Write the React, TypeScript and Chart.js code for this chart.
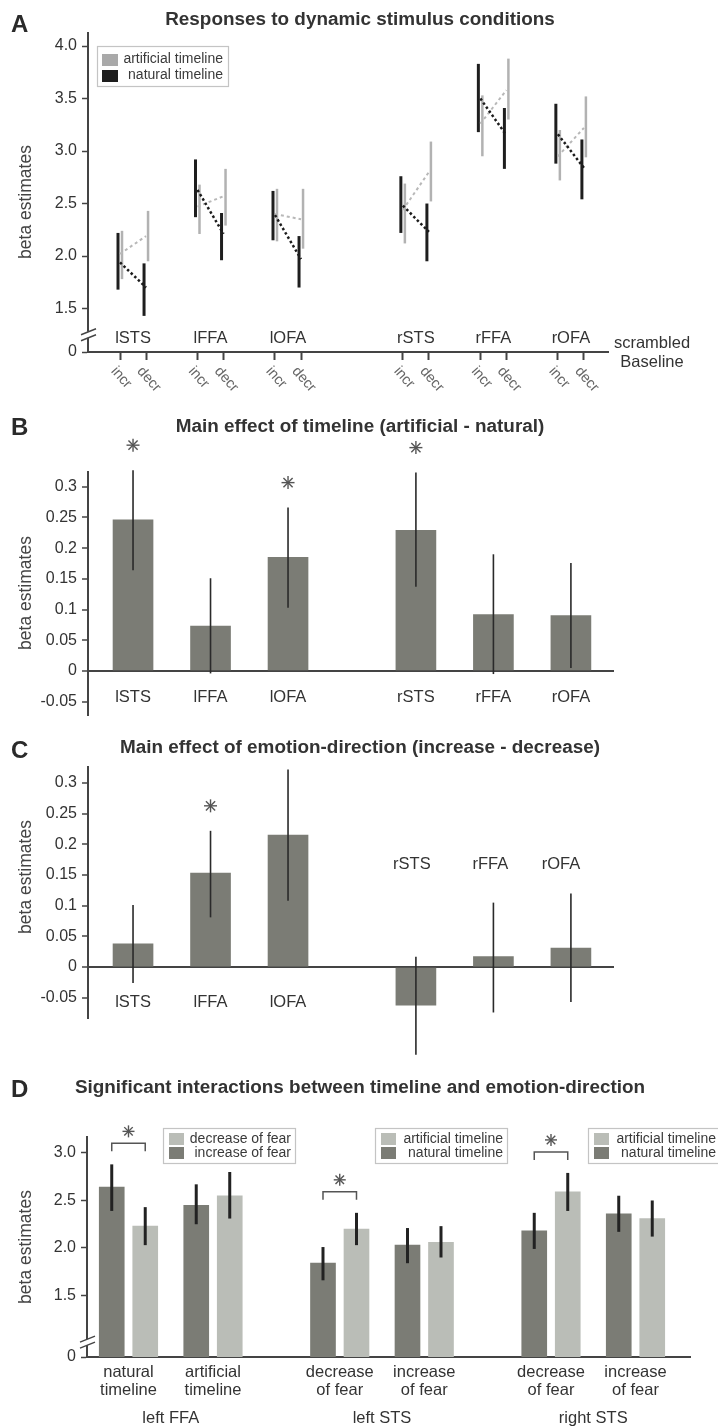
import React, { useEffect, useRef } from 'react';
import { Chart, registerables } from 'chart.js';

Chart.register(...registerables);

const FONT = '"Liberation Sans", Arial, Helvetica, sans-serif';
const INK = '#333333';
const AXIS = '#444444';
const BAR_DARK = '#7b7c75';
const BAR_LIGHT = '#babdb7';

// ---------------- Panel A data ----------------
const titleA = 'Responses to dynamic stimulus conditions';
const regionsA = ['lSTS', 'lFFA', 'lOFA', 'rSTS', 'rFFA', 'rOFA'];
const conditionsA = ['incr', 'decr'];
const yTicksA = [1.5, 2.0, 2.5, 3.0, 3.5, 4.0];
const legendA = ['artificial timeline', 'natural timeline'];
const natIncrMean = [1.94, 2.63, 2.39, 2.48, 3.5, 3.16];
const natIncrLow = [1.68, 2.37, 2.15, 2.22, 3.18, 2.88];
const natIncrHigh = [2.22, 2.92, 2.62, 2.76, 3.83, 3.45];
const natDecrMean = [1.7, 2.21, 1.97, 2.23, 3.15, 2.84];
const natDecrLow = [1.43, 1.96, 1.7, 1.95, 2.83, 2.54];
const natDecrHigh = [1.93, 2.41, 2.19, 2.5, 3.41, 3.11];
const artIncrMean = [2.02, 2.47, 2.4, 2.44, 3.26, 2.95];
const artIncrLow = [1.78, 2.21, 2.14, 2.12, 2.95, 2.72];
const artIncrHigh = [2.24, 2.68, 2.64, 2.69, 3.53, 3.2];
const artDecrMean = [2.19, 2.57, 2.35, 2.8, 3.58, 3.22];
const artDecrLow = [1.95, 2.29, 2.07, 2.52, 3.3, 2.94];
const artDecrHigh = [2.43, 2.83, 2.64, 3.09, 3.88, 3.52];

// ---------------- Panel B data ----------------
const titleB = 'Main effect of timeline (artificial - natural)';
const yTicksB = [-0.05, 0, 0.05, 0.1, 0.15, 0.2, 0.25, 0.3];
const timelineEffect = [0.246, 0.073, 0.185, 0.229, 0.092, 0.09];
const timelineLow = [0.164, -0.004, 0.103, 0.137, -0.005, 0.005];
const timelineHigh = [0.327, 0.151, 0.266, 0.323, 0.19, 0.176];
const timelineSig = [true, false, true, true, false, false];

// ---------------- Panel C data ----------------
const titleC = 'Main effect of emotion-direction (increase - decrease)';
const yTicksC = [-0.05, 0, 0.05, 0.1, 0.15, 0.2, 0.25, 0.3];
const emotionEffect = [0.038, 0.153, 0.215, -0.062, 0.017, 0.031];
const emotionLow = [-0.026, 0.081, 0.108, -0.143, -0.074, -0.057];
const emotionHigh = [0.101, 0.222, 0.322, 0.017, 0.105, 0.12];
const emotionSig = [false, true, false, false, false, false];

// ---------------- Panel D data ----------------
const titleD = 'Significant interactions between timeline and emotion-direction';
const yTicksD = [1.5, 2.0, 2.5, 3.0];
const dCategories = [
  ['natural', 'timeline'],
  ['artificial', 'timeline'],
  ['decrease', 'of fear'],
  ['increase', 'of fear'],
  ['decrease', 'of fear'],
  ['increase', 'of fear'],
];
const dRegions = ['left FFA', 'left STS', 'right STS'];
const dDark = [2.64, 2.45, 1.84, 2.03, 2.18, 2.36];
const dDarkLow = [2.39, 2.25, 1.66, 1.84, 1.99, 2.17];
const dDarkHigh = [2.88, 2.67, 2.01, 2.21, 2.37, 2.55];
const dLight = [2.23, 2.55, 2.2, 2.06, 2.59, 2.31];
const dLightLow = [2.03, 2.31, 2.03, 1.9, 2.39, 2.12];
const dLightHigh = [2.43, 2.8, 2.37, 2.23, 2.79, 2.5];
const dSig = [true, false, true, false, true, false];
const dLegends = [
  ['decrease of fear', 'increase of fear'],
  ['artificial timeline', 'natural timeline'],
  ['artificial timeline', 'natural timeline'],
];

// ---------------- layout constants ----------------
const posA = [0, 1, 2, 3.65, 4.65, 5.65];
const condShift = 0.168;
const posD = [0, 1, 2.5, 3.5, 5, 6];
const labelShiftC = [0, 0, 0, -4, -3, -10];

// ---------------- drawing helpers ----------------
function drawText(ctx: any, s: string, x: number, y: number, o: any = {}) {
  ctx.save();
  ctx.font = `${o.bold ? 'bold ' : ''}${o.size || 15}px ${FONT}`;
  ctx.fillStyle = o.color || INK;
  ctx.textAlign = o.align || 'center';
  ctx.textBaseline = o.baseline || 'middle';
  ctx.translate(x, y);
  if (o.rotate) ctx.rotate(o.rotate);
  if (o.scaleX) ctx.scale(o.scaleX, 1);
  ctx.fillText(s, 0, 0);
  ctx.restore();
}

function header(ctx: any, letter: string, title: string, titleBase: number, letterBase: number) {
  drawText(ctx, letter, 11, letterBase, { size: 24, bold: true, align: 'left', baseline: 'alphabetic', color: '#2a2a2a' });
  drawText(ctx, title, 360, titleBase, { size: 18, bold: true, baseline: 'alphabetic', color: '#333', scaleX: 1.05 });
}

function yTitle(ctx: any, cy: number) {
  drawText(ctx, 'beta estimates', 26, cy, { size: 17.5, rotate: -Math.PI / 2, color: '#444' });
}

function legendBox(ctx: any, x: number, y: number, w: number, h: number, items: any[], o: any) {
  ctx.save();
  ctx.fillStyle = '#ffffff';
  ctx.fillRect(x, y, w, h);
  ctx.strokeStyle = '#c4c4c4';
  ctx.lineWidth = 1.2;
  ctx.strokeRect(x + 0.5, y + 0.5, w, h);
  items.forEach((it, j) => {
    ctx.fillStyle = it.color;
    ctx.fillRect(x + o.swX, y + o.swTop + j * o.step, o.swW, o.swH);
    drawText(ctx, it.label, x + w - o.textRight, y + o.textY + j * o.step, { size: o.size, align: 'right', color: '#3a3a3a' });
  });
  ctx.restore();
}

function star(ctx: any, cx: number, cy: number, r: number) {
  ctx.save();
  ctx.strokeStyle = '#555';
  ctx.lineWidth = 1.4;
  for (let k = 0; k < 4; k++) {
    const a = (k * Math.PI) / 4;
    ctx.beginPath();
    ctx.moveTo(cx - r * Math.cos(a), cy - r * Math.sin(a));
    ctx.lineTo(cx + r * Math.cos(a), cy + r * Math.sin(a));
    ctx.stroke();
  }
  ctx.restore();
}

function axisBreak(ctx: any, ax: number, py: number) {
  ctx.save();
  ctx.fillStyle = '#ffffff';
  ctx.fillRect(ax - 3, py - 3, 6, 6);
  ctx.strokeStyle = AXIS;
  ctx.lineWidth = 1.5;
  for (const d of [-3, 3]) {
    ctx.beginPath();
    ctx.moveTo(ax - 7, py + d + 3);
    ctx.lineTo(ax + 8, py + d - 3);
    ctx.stroke();
  }
  ctx.restore();
}

function vline(ctx: any, x: number, y1: number, y2: number) {
  ctx.beginPath();
  ctx.moveTo(x, y1);
  ctx.lineTo(x, y2);
  ctx.stroke();
}

const baseOptions = () => ({
  responsive: false,
  animation: false,
  events: [],
  plugins: { legend: { display: false }, tooltip: { enabled: false }, title: { display: false } },
});

const tickFont = { family: FONT, size: 16 };
const fmtSmall = (v: any) => String(Number(Number(v).toFixed(2)));

// ---------------- Panel A ----------------
const pluginA = {
  id: 'panelA',
  beforeDatasetsDraw(chart: any) {
    const { ctx, scales } = chart;
    const { x, y } = scales;
    ctx.save();
    ctx.lineCap = 'butt';
    ctx.strokeStyle = '#b2b2b2';
    ctx.lineWidth = 2.5;
    regionsA.forEach((_, i) => {
      vline(ctx, x.getPixelForValue(posA[i] - condShift) + 2, y.getPixelForValue(artIncrLow[i]), y.getPixelForValue(artIncrHigh[i]));
      vline(ctx, x.getPixelForValue(posA[i] + condShift) + 2, y.getPixelForValue(artDecrLow[i]), y.getPixelForValue(artDecrHigh[i]));
    });
    ctx.strokeStyle = '#1e1e1e';
    ctx.lineWidth = 3;
    regionsA.forEach((_, i) => {
      vline(ctx, x.getPixelForValue(posA[i] - condShift) - 2, y.getPixelForValue(natIncrLow[i]), y.getPixelForValue(natIncrHigh[i]));
      vline(ctx, x.getPixelForValue(posA[i] + condShift) - 2, y.getPixelForValue(natDecrLow[i]), y.getPixelForValue(natDecrHigh[i]));
    });
    ctx.restore();
  },
  afterDraw(chart: any) {
    const { ctx, chartArea: ca, scales } = chart;
    const { x, y } = scales;
    header(ctx, 'A', titleA, 25, 32);
    yTitle(ctx, 202);
    legendBox(ctx, 97, 46, 131, 40, [
      { color: '#a9a9a9', label: legendA[0] },
      { color: '#1e1e1e', label: legendA[1] },
    ], { swX: 5, swTop: 8, swW: 16, swH: 12, step: 16, textY: 13.5, textRight: 5, size: 14 });
    regionsA.forEach((r, i) => drawText(ctx, r, x.getPixelForValue(posA[i]), ca.bottom - 14, { size: 16.5 }));
    regionsA.forEach((_, i) =>
      conditionsA.forEach((c, k) => {
        const px = x.getPixelForValue(posA[i] + (k === 0 ? -condShift : condShift));
        drawText(ctx, c, px - 1, ca.bottom + 12, { size: 14.5, align: 'left', baseline: 'top', rotate: 0.85, color: '#666' });
      })
    );
    drawText(ctx, 'scrambled', 652, ca.bottom - 9, { size: 16.5 });
    drawText(ctx, 'Baseline', 652, ca.bottom + 10, { size: 16.5 });
    axisBreak(ctx, ca.left, y.getPixelForValue(1.25));
  },
};

function configA() {
  const nat: any[] = [];
  const art: any[] = [];
  regionsA.forEach((_, i) => {
    nat.push({ x: posA[i] - condShift, y: natIncrMean[i] }, { x: posA[i] + condShift, y: natDecrMean[i] }, { x: posA[i] + 0.5, y: null });
    art.push({ x: posA[i] - condShift, y: artIncrMean[i] }, { x: posA[i] + condShift, y: artDecrMean[i] }, { x: posA[i] + 0.5, y: null });
  });
  const condTicks: any[] = [];
  posA.forEach((p) => condTicks.push({ value: p - condShift }, { value: p + condShift }));
  return {
    type: 'line',
    data: {
      datasets: [
        { label: legendA[1], data: nat, borderColor: '#1c1c1c', borderWidth: 2.5, borderDash: [2.5, 2.5], pointRadius: 0, spanGaps: false, tension: 0 },
        { label: legendA[0], data: art, borderColor: '#b8b8b8', borderWidth: 2, borderDash: [3, 3], pointRadius: 0, spanGaps: false, tension: 0 },
      ],
    },
    options: {
      ...baseOptions(),
      layout: { autoPadding: false, padding: { top: 33, left: 0, right: 110, bottom: 0 } },
      scales: {
        x: {
          type: 'linear', min: -0.581, max: 6.129, offset: false,
          afterBuildTicks: (s: any) => { s.ticks = condTicks; },
          ticks: { display: false },
          grid: { display: true, drawOnChartArea: false, drawTicks: true, tickLength: 8, tickColor: AXIS, tickWidth: 2 },
          border: { display: true, color: AXIS, width: 2 },
          afterFit: (s: any) => { s.height = 48; },
        },
        y: {
          min: 1.086, max: 4.124,
          afterBuildTicks: (s: any) => { s.ticks = [1.086, ...yTicksA].map((v) => ({ value: v })); },
          ticks: { callback: (v: any, i: number) => (i === 0 ? '0' : Number(v).toFixed(1)), font: tickFont, color: INK, padding: 5 },
          grid: { drawOnChartArea: false, drawTicks: true, tickLength: 6, tickColor: AXIS, tickWidth: 1.5 },
          border: { display: true, color: AXIS, width: 2 },
          afterFit: (s: any) => { s.width = 88; },
        },
      },
    },
    plugins: [pluginA],
  };
}

// ---------------- Panels B & C ----------------
function makeEffectPlugin(id: string, letter: string, title: string, titleBase: number, letterBase: number, yTitleY: number,
  low: number[], high: number[], sig: boolean[], labelMode: string) {
  return {
    id,
    afterDatasetsDraw(chart: any) {
      const { ctx, scales } = chart;
      const { y } = scales;
      const meta = chart.getDatasetMeta(0);
      ctx.save();
      ctx.strokeStyle = '#2a2a2a';
      ctx.lineWidth = 1.6;
      meta.data.forEach((el: any, i: number) => vline(ctx, el.x, y.getPixelForValue(low[i]), y.getPixelForValue(high[i])));
      ctx.restore();
    },
    afterDraw(chart: any) {
      const { ctx, scales } = chart;
      const { y } = scales;
      const meta = chart.getDatasetMeta(0);
      header(ctx, letter, title, titleBase, letterBase);
      yTitle(ctx, yTitleY);
      const y0 = y.getPixelForValue(0);
      meta.data.forEach((el: any, i: number) => {
        let ly = y0 + 26;
        let lx = el.x;
        if (labelMode === 'split') {
          ly = i < 3 ? y0 + 35 : y0 - 103;
          lx = el.x + labelShiftC[i];
        }
        drawText(ctx, regionsA[i], lx, ly, { size: 16.5 });
        if (sig[i]) star(ctx, el.x, y.getPixelForValue(high[i]) - 25, 6.5);
      });
    },
  };
}

function configEffect(values: number[], yTicks: number[], yMin: number, yMax: number, top: number, bottom: number, plugin: any) {
  return {
    type: 'bar',
    data: {
      datasets: [{ data: posA.map((p, i) => ({ x: p, y: values[i] })), backgroundColor: BAR_DARK, barThickness: 40 }],
    },
    options: {
      ...baseOptions(),
      layout: { autoPadding: false, padding: { top, left: 0, right: 104, bottom } },
      scales: {
        x: { type: 'linear', display: false, min: -0.581, max: 6.206, offset: false },
        y: {
          min: yMin, max: yMax,
          afterBuildTicks: (s: any) => { s.ticks = yTicks.map((v) => ({ value: v })); },
          ticks: { callback: fmtSmall, font: tickFont, color: INK, padding: 5 },
          grid: {
            drawOnChartArea: true, drawTicks: true, tickLength: 6, tickColor: AXIS, tickWidth: 1.5, lineWidth: 2,
            color: (c: any) => (c.tick && Math.abs(c.tick.value) < 1e-9 ? AXIS : 'rgba(0,0,0,0)'),
          },
          border: { display: true, color: AXIS, width: 2 },
          afterFit: (s: any) => { s.width = 88; },
        },
      },
    },
    plugins: [plugin],
  };
}

const configB = () =>
  configEffect(timelineEffect, yTicksB, -0.0717, 0.324, 72, 20,
    makeEffectPlugin('panelB', 'B', titleB, 32, 35, 193, timelineLow, timelineHigh, timelineSig, 'below'));

const configC = () =>
  configEffect(emotionEffect, yTicksC, -0.083, 0.326, 32, 47,
    makeEffectPlugin('panelC', 'C', titleC, 18, 23, 142, emotionLow, emotionHigh, emotionSig, 'split'));

// ---------------- Panel D ----------------
const pluginD = {
  id: 'panelD',
  afterDatasetsDraw(chart: any) {
    const { ctx, scales } = chart;
    const { y } = scales;
    const dark = chart.getDatasetMeta(0).data;
    const light = chart.getDatasetMeta(1).data;
    ctx.save();
    ctx.strokeStyle = '#222';
    ctx.lineWidth = 3;
    dark.forEach((el: any, i: number) => vline(ctx, el.x, y.getPixelForValue(dDarkLow[i]), y.getPixelForValue(dDarkHigh[i])));
    light.forEach((el: any, i: number) => vline(ctx, el.x, y.getPixelForValue(dLightLow[i]), y.getPixelForValue(dLightHigh[i])));
    ctx.restore();
  },
  afterDraw(chart: any) {
    const { ctx, chartArea: ca, scales } = chart;
    const { x, y } = scales;
    header(ctx, 'D', titleD, 28, 32);
    yTitle(ctx, 182);
    const legendX = [163, 375, 588];
    dLegends.forEach((lg, g) =>
      legendBox(ctx, legendX[g], 63, 132, 35, [
        { color: BAR_LIGHT, label: lg[0] },
        { color: BAR_DARK, label: lg[1] },
      ], { swX: 6, swTop: 5, swW: 15, swH: 12, step: 14, textY: 11.5, textRight: 4, size: 14 })
    );
    const dark = chart.getDatasetMeta(0).data;
    const light = chart.getDatasetMeta(1).data;
    ctx.save();
    ctx.strokeStyle = '#555';
    ctx.lineWidth = 1.5;
    dSig.forEach((s, i) => {
      if (!s) return;
      const xa = dark[i].x;
      const xb = light[i].x;
      const top = Math.min(y.getPixelForValue(dDarkHigh[i]), y.getPixelForValue(dLightHigh[i])) - 21;
      ctx.beginPath();
      ctx.moveTo(xa, top + 8);
      ctx.lineTo(xa, top);
      ctx.lineTo(xb, top);
      ctx.lineTo(xb, top + 8);
      ctx.stroke();
      star(ctx, (xa + xb) / 2, top - 12, 6);
    });
    ctx.restore();
    dCategories.forEach((c, i) => {
      const px = x.getPixelForValue(posD[i]);
      drawText(ctx, c[0], px, ca.bottom + 15, { size: 16.5 });
      drawText(ctx, c[1], px, ca.bottom + 33, { size: 16.5 });
    });
    dRegions.forEach((r, g) => {
      const px = (x.getPixelForValue(posD[2 * g]) + x.getPixelForValue(posD[2 * g + 1])) / 2;
      drawText(ctx, r, px, ca.bottom + 61, { size: 16.5 });
    });
    axisBreak(ctx, ca.left, y.getPixelForValue(1.01));
  },
};

function configD() {
  return {
    type: 'bar',
    data: {
      datasets: [
        { label: 'dark', data: posD.map((p, i) => ({ x: p, y: dDark[i] })), backgroundColor: BAR_DARK, barThickness: 33.5, maxBarThickness: 25 },
        { label: 'light', data: posD.map((p, i) => ({ x: p, y: dLight[i] })), backgroundColor: BAR_LIGHT, barThickness: 33.5, maxBarThickness: 25 },
      ],
    },
    options: {
      ...baseOptions(),
      layout: { autoPadding: false, padding: { top: 72, left: 0, right: 28, bottom: 0 } },
      scales: {
        x: {
          type: 'linear', min: -0.491, max: 6.645, offset: false,
          ticks: { display: false },
          grid: { display: false },
          border: { display: true, color: AXIS, width: 2 },
          afterFit: (s: any) => { s.height = 71; },
        },
        y: {
          min: 0.853, max: 3.168,
          afterBuildTicks: (s: any) => { s.ticks = [0.853, ...yTicksD].map((v) => ({ value: v })); },
          ticks: { callback: (v: any, i: number) => (i === 0 ? '0' : Number(v).toFixed(1)), font: tickFont, color: INK, padding: 5 },
          grid: { drawOnChartArea: false, drawTicks: true, tickLength: 6, tickColor: AXIS, tickWidth: 1.5 },
          border: { display: true, color: AXIS, width: 2 },
          afterFit: (s: any) => { s.width = 87; },
        },
      },
    },
    plugins: [pluginD],
  };
}

// ---------------- React ----------------
function Panel({ top, height, config }: { top: number; height: number; config: () => any }) {
  const ref = useRef<HTMLCanvasElement | null>(null);
  useEffect(() => {
    const chart = new Chart(ref.current as HTMLCanvasElement, config());
    return () => chart.destroy();
  }, []);
  return (
    <canvas
      ref={ref}
      width={718}
      height={height}
      style={{ position: 'absolute', left: 0, top, width: 718, height, display: 'block' }}
    />
  );
}

export default function App() {
  return (
    <div style={{ position: 'absolute', left: 0, top: 0, width: 718, height: 1428, background: '#ffffff', overflow: 'hidden' }}>
      <Panel top={0} height={400} config={configA} />
      <Panel top={400} height={335} config={configB} />
      <Panel top={735} height={330} config={configC} />
      <Panel top={1065} height={363} config={configD} />
    </div>
  );
}
